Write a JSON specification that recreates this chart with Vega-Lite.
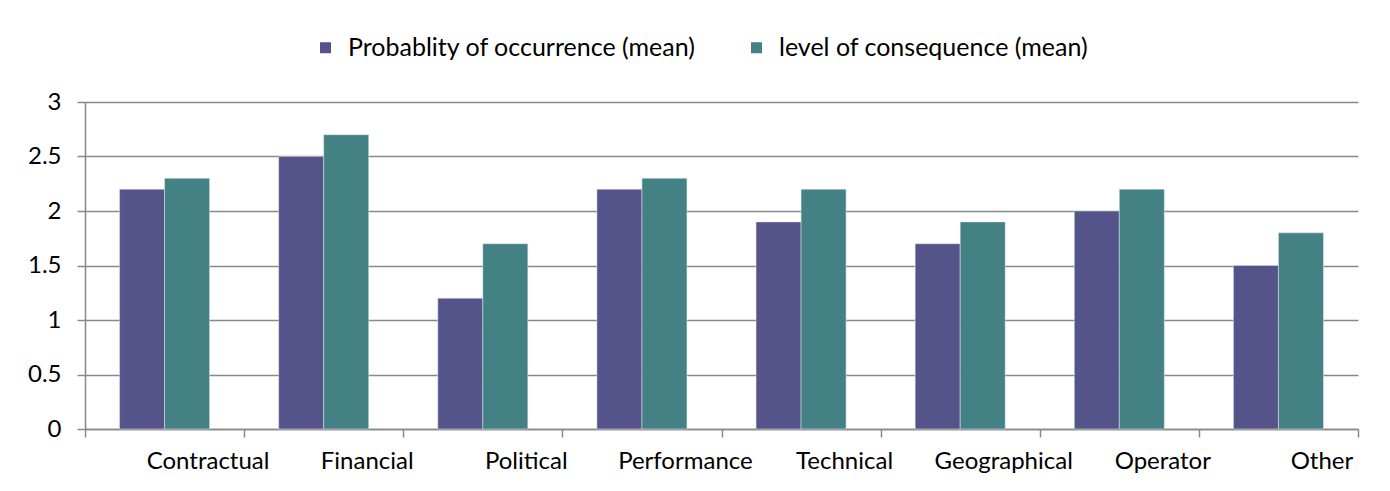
{
  "$schema": "https://vega.github.io/schema/vega-lite/v6.json",
  "width": 1273,
  "height": 327,
  "autosize": {"type": "none"},
  "padding": {"left": 85, "top": 102, "right": 32, "bottom": 62},
  "background": "white",
  "config": {
    "font": "Lato",
    "view": {"stroke": null}
  },
  "data": {
    "values": [
      {"category": "Contractual", "series": "Probablity of occurrence (mean)", "value": 2.2},
      {"category": "Contractual", "series": "level of consequence (mean)", "value": 2.3},
      {"category": "Financial", "series": "Probablity of occurrence (mean)", "value": 2.5},
      {"category": "Financial", "series": "level of consequence (mean)", "value": 2.7},
      {"category": "Political", "series": "Probablity of occurrence (mean)", "value": 1.2},
      {"category": "Political", "series": "level of consequence (mean)", "value": 1.7},
      {"category": "Performance", "series": "Probablity of occurrence (mean)", "value": 2.2},
      {"category": "Performance", "series": "level of consequence (mean)", "value": 2.3},
      {"category": "Technical", "series": "Probablity of occurrence (mean)", "value": 1.9},
      {"category": "Technical", "series": "level of consequence (mean)", "value": 2.2},
      {"category": "Geographical", "series": "Probablity of occurrence (mean)", "value": 1.7},
      {"category": "Geographical", "series": "level of consequence (mean)", "value": 1.9},
      {"category": "Operator", "series": "Probablity of occurrence (mean)", "value": 2.0},
      {"category": "Operator", "series": "level of consequence (mean)", "value": 2.2},
      {"category": "Other", "series": "Probablity of occurrence (mean)", "value": 1.5},
      {"category": "Other", "series": "level of consequence (mean)", "value": 1.8}
    ]
  },
  "mark": {"type": "bar", "stroke": "#e8e8f0", "strokeWidth": 0.5},
  "encoding": {
    "x": {
      "field": "category",
      "type": "nominal",
      "sort": null,
      "scale": {"paddingInner": 0, "paddingOuter": 0},
      "axis": {
        "title": null,
        "labelAngle": 0,
        "labelFontSize": 24,
        "labelColor": "#000000",
        "labelPadding": 12,
        "labelOffset": 43,
        "labelLimit": 300,
        "tickBand": "extent",
        "tickSize": 8,
        "tickColor": "#888888",
        "tickWidth": 1.5,
        "domainColor": "#888888",
        "domainWidth": 1.5,
        "grid": false
      }
    },
    "xOffset": {
      "field": "series",
      "type": "nominal",
      "sort": null,
      "scale": {"paddingInner": 0, "paddingOuter": 0.767}
    },
    "y": {
      "field": "value",
      "type": "quantitative",
      "scale": {"domain": [0, 3], "nice": false},
      "axis": {
        "title": null,
        "values": [0, 0.5, 1, 1.5, 2, 2.5, 3],
        "format": "~g",
        "labelFontSize": 24,
        "labelColor": "#000000",
        "labelPadding": 16,
        "tickSize": 8,
        "tickColor": "#888888",
        "tickWidth": 1.5,
        "domainColor": "#888888",
        "domainWidth": 1.5,
        "grid": true,
        "gridColor": "#888888",
        "gridWidth": 1.5
      }
    },
    "color": {
      "field": "series",
      "type": "nominal",
      "sort": null,
      "scale": {"range": ["#54548A", "#438185"]},
      "legend": {
        "title": null,
        "orient": "none",
        "direction": "horizontal",
        "legendX": 228,
        "legendY": -67,
        "symbolType": "square",
        "symbolSize": 121,
        "symbolStrokeWidth": 0,
        "labelFontSize": 25,
        "labelColor": "#000000",
        "labelOffset": 10,
        "labelLimit": 500,
        "columnPadding": 48
      }
    }
  }
}
